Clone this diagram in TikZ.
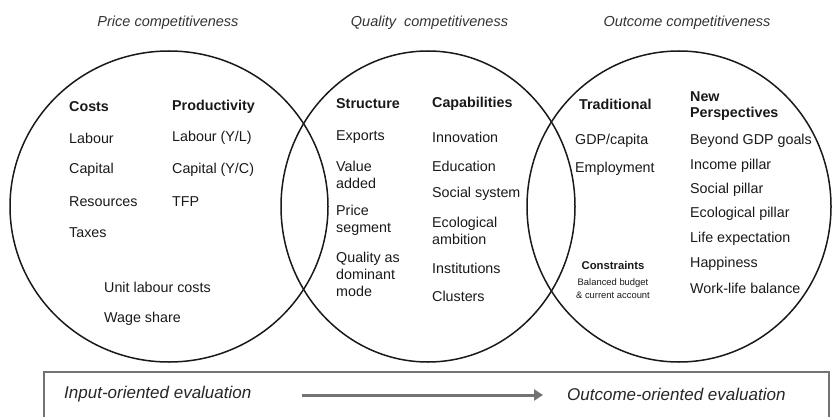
\documentclass[tikz,border=0pt]{standalone}
\usepackage{fontspec}
\setmainfont{Liberation Sans}
\usetikzlibrary{shapes.geometric, arrows.meta}

\begin{document}
\begin{tikzpicture}[x=1pt, y=-1pt,
		ring/.style={ellipse, draw=black!90, line width=1.5pt, inner sep=0pt},
		item/.style={anchor=west, inner sep=0pt, align=left, text=black!90,
			font=\fontsize{14.3}{17}\selectfont},
		head/.style={item, font=\fontsize{14.3}{16}\selectfont\bfseries},
		title/.style={inner sep=0pt, text=black!80, font=\fontsize{14.5}{17}\selectfont\itshape},
		evaluation/.style={anchor=west, inner sep=0pt, text=black!85, font=\fontsize{17}{20}\selectfont\itshape},
		]
		\useasboundingbox (0,0) rectangle (832,417);
		
		% the three circles
		\node[ring, minimum width=318pt, minimum height=311pt] (price) at (169,206.5) {};
		\node[ring, minimum width=294pt, minimum height=311pt] (quality) at (428,206.5) {};
		\node[ring, minimum width=304pt, minimum height=311pt] (outcome) at (679,206.5) {};
		
		\node[title] (pricetitle) at (168,23) {Price competitiveness};
		\node[title] (qualitytitle) at (429.5,23) {Quality\ \ competitiveness};
		\node[title] (outcometitle) at (687,23) {Outcome competitiveness};
		
		% price competitiveness
		\node[head] (costs) at (69,107) {Costs};
		\node[head] (productivity) at (172,107) {Productivity};
		\node[item] (labour) at (69,138) {Labour};
		\node[item] (capital) at (69,170) {Capital};
		\node[item] (resources) at (69,202) {Resources};
		\node[item] (taxes) at (69,233) {Taxes};
		\node[item] (labourprod) at (172,138) {Labour (Y/L)};
		\node[item] (capitalprod) at (172,170) {Capital (Y/C)};
		\node[item] (tfp) at (172,202) {TFP};
		\node[item] (ulc) at (104,287) {Unit labour costs};
		\node[item] (wageshare) at (104,319) {Wage share};
		
		% quality competitiveness
		\node[head] (structure) at (336,104) {Structure};
		\node[head] (capabilities) at (432,104) {Capabilities};
		\node[item] (exports) at (336,137) {Exports};
		\node[item] (valueadded) at (336,174.5) {Value\\added};
		\node[item] (pricesegment) at (336,220) {Price\\segment};
		\node[item] (qualitymode) at (336,274) {Quality as\\dominant\\mode};
		\node[item] (innovation) at (432,137) {Innovation};
		\node[item] (education) at (432,166) {Education};
		\node[item] (socialsystem) at (432,194) {Social system};
		\node[item] (ecoambition) at (432,230.5) {Ecological\\ambition};
		\node[item] (institutions) at (432,268) {Institutions};
		\node[item] (clusters) at (432,296) {Clusters};
		
		% outcome competitiveness
		\node[head] (traditional) at (579,104) {Traditional};
		\node[head] (newpersp) at (690,106) {New\\Perspectives};
		\node[item] (gdpcapita) at (575,141) {GDP/capita};
		\node[item] (employment) at (575,169) {Employment};
		\node[item] (beyondgdp) at (690,141) {Beyond GDP goals};
		\node[item] (income) at (690,166) {Income pillar};
		\node[item] (social) at (690,190) {Social pillar};
		\node[item] (ecological) at (690,214) {Ecological pillar};
		\node[item] (life) at (690,239) {Life expectation};
		\node[item] (happiness) at (690,264) {Happiness};
		\node[item] (worklife) at (690,288) {Work-life balance};
		\node[inner sep=0pt, text=black!90, font=\fontsize{11.3}{13}\selectfont\bfseries] (constraints) at (613,265) {Constraints};
		\node[inner sep=0pt, align=center, text=black!90, font=\fontsize{9.4}{13}\selectfont] (budget) at (613,288.5) {Balanced budget\\\& current account};
		
		% evaluation scale
		\draw[black!55, line width=1.3pt] (44,372) rectangle (829,420);
		\node[evaluation] (input) at (64,394) {Input-oriented evaluation};
		\node[evaluation] (output) at (567,394) {Outcome-oriented evaluation};
		\coordinate (arrfrom) at (302,395);
		\coordinate (arrto) at (543,395);
		\draw[-{Triangle[length=9pt,width=11pt]}, black!55, line width=3pt] (arrfrom) -- (arrto);
\end{tikzpicture}
\end{document}
